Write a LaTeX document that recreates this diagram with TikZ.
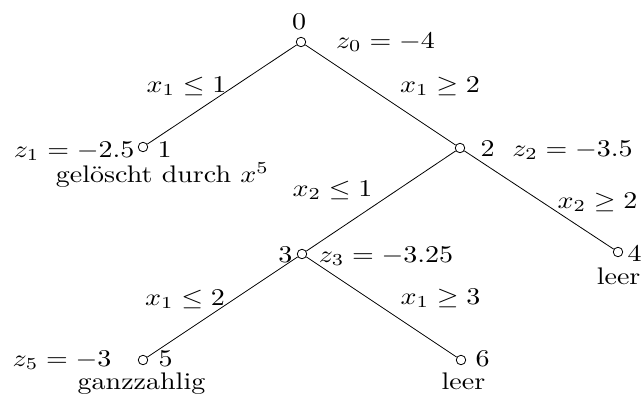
\documentclass[tikz,border=0pt]{standalone}
\usepackage{amsmath}
\begin{document}
\begin{tikzpicture}[x=1pt,y=-1pt,
  vtx/.style={circle,draw,line width=0.8pt,minimum size=9.5pt,inner sep=0pt},
  edge/.style={line width=0.8pt},
  lbl/.style={inner sep=0pt,anchor=base,xscale=2.8,yscale=2.4,transform shape},
  lblw/.style={lbl,anchor=base west},
  lble/.style={lbl,anchor=base east}]
\useasboundingbox (0,0) rectangle (643,399);
% vertices
\node[vtx] (n0) at (301,42) {};
\node[vtx] (n1) at (143,147) {};
\node[vtx] (n2) at (460,148) {};
\node[vtx] (n3) at (302,254) {};
\node[vtx] (n4) at (618,252) {};
\node[vtx] (n5) at (143,360) {};
\node[vtx] (n6) at (461,360) {};
% edges
\draw[edge] (n0) -- (n1);
\draw[edge] (n0) -- (n2);
\draw[edge] (n2) -- (n3);
\draw[edge] (n2) -- (n4);
\draw[edge] (n3) -- (n5);
\draw[edge] (n3) -- (n6);
% node labels
\node[lbl] (t0) at (299,29) {$0$};
\node[lbl] (z0) at (385.5,48) {$z_0=-4$};
\node[lble] (z1) at (135,157) {$z_1=-2.5$};
\node[lblw] (t1) at (157,157) {$1$};
\node[lbl] (del) at (162.5,182) {gelöscht durch $x^5$};
\node[lblw] (t2) at (480,156) {$2$};
\node[lbl] (z2) at (572.5,156) {$z_2=-3.5$};
\node[lble] (t3) at (293,262) {$3$};
\node[lbl] (z3) at (386,262) {$z_3=-3.25$};
\node[lblw] (t4) at (627,261) {$4$};
\node[lble] (l4) at (641,284) {leer};
\node[lble] (z5) at (112,366) {$z_5=-3$};
\node[lblw] (t5) at (158,366) {$5$};
\node[lbl] (gz) at (141.5,389) {ganzzahlig};
\node[lblw] (t6) at (475,366) {$6$};
\node[lbl] (l6) at (463.5,389) {leer};
% edge labels
\node[lbl] (e01) at (186.5,92) {$x_1\leq 1$};
\node[lbl] (e02) at (440,92) {$x_1\geq 2$};
\node[lbl] (e23) at (332.5,196) {$x_2\leq 1$};
\node[lbl] (e24) at (597.5,208) {$x_2\geq 2$};
\node[lbl] (e35) at (185,305) {$x_1\leq 2$};
\node[lbl] (e36) at (440.5,304) {$x_1\geq 3$};
\end{tikzpicture}
\end{document}
